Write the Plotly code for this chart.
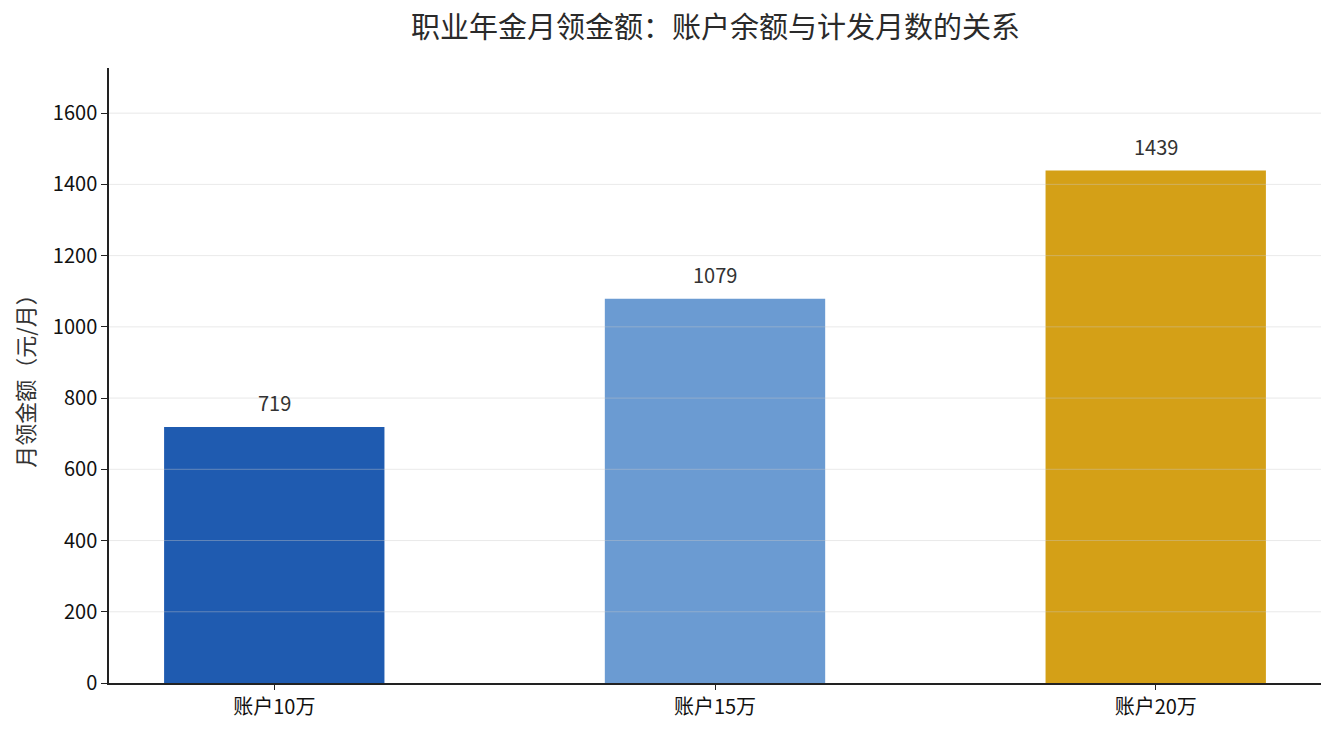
import plotly.graph_objects as go

categories = ["账户10万", "账户15万", "账户20万"]
monthly_amount = [719, 1079, 1439]
bar_colors = ["#1f5bb0", "#6b9bd2", "#d4a017"]
grid_values = list(range(200, 1800, 200))
title_text = "职业年金月领金额：账户余额与计发月数的关系"

font = "Noto Sans CJK SC"

fig = go.Figure(
    go.Bar(
        x=categories,
        y=monthly_amount,
        marker_color=bar_colors,
        marker_line_width=0,
        width=0.5,
        hoverinfo="skip",
    )
)

for cat, val in zip(categories, monthly_amount):
    fig.add_annotation(
        x=cat, y=val, text=str(val), showarrow=False,
        yanchor="bottom", yshift=8,
        font=dict(family=font, size=20, color="#333333"),
    )

# gridlines drawn over the bars, like the reference
for g in grid_values:
    fig.add_shape(
        type="line", xref="paper", x0=0, x1=1, yref="y", y0=g, y1=g,
        line=dict(color="rgba(200,200,200,0.4)", width=1), layer="above",
    )

# title as an annotation centred over the figure
fig.add_annotation(
    text=title_text, showarrow=False,
    xref="paper", x=0.5, xanchor="center",
    yref="paper", y=1, yanchor="bottom", yshift=20,
    font=dict(family=font, size=29, color="#2a2a2a"),
)

fig.update_layout(
    width=1335,
    height=735,
    margin=dict(l=101, r=22, t=60, b=60),
    paper_bgcolor="white",
    plot_bgcolor="white",
    showlegend=False,
    font=dict(family=font, size=20, color="#111111"),
)
fig.update_xaxes(
    range=[-0.375, 2.375],
    showline=True, linecolor="#222222", linewidth=1.5,
    ticks="outside", ticklen=5, tickcolor="#222222",
    showgrid=False,
    tickfont=dict(size=20),
)
fig.update_yaxes(
    range=[0, 1439 * 1.2],
    dtick=200,
    showline=True, linecolor="#222222", linewidth=1.5,
    ticks="outside", ticklen=6, tickcolor="#222222",
    showgrid=False,
    zeroline=False,
    tickfont=dict(size=20),
    title=dict(text="月领金额（元/月）", font=dict(size=22, color="#333333"), standoff=12),
)

fig.write_html("out.html")
